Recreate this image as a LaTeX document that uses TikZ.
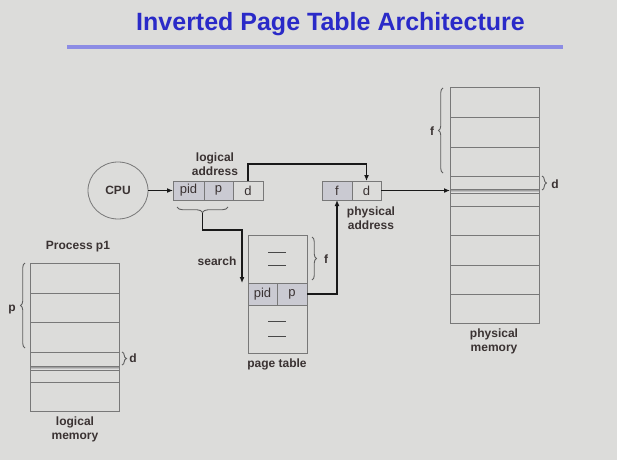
\documentclass[tikz,border=0pt]{standalone}
\usepackage{fontspec}
\setmainfont{Liberation Sans}
\usetikzlibrary{arrows.meta,decorations.pathreplacing,calc,shapes.geometric}
\definecolor{bg}{RGB}{220,220,218}
\definecolor{linegray}{RGB}{120,120,120}
\definecolor{bracegray}{RGB}{95,95,95}
\definecolor{shade}{RGB}{202,202,210}
\definecolor{lblcol}{RGB}{58,50,50}
\definecolor{arrcol}{RGB}{25,25,25}
\definecolor{titleblue}{RGB}{42,42,200}
\definecolor{ruleblue}{RGB}{140,140,228}
\tikzset{
  cell/.style={draw=linegray, line width=0.8pt, minimum height=19pt, inner sep=0pt, outer sep=0pt, text=lblcol, font=\fontsize{13}{15}\selectfont},
  shadedcell/.style={cell, fill=shade},
  lbl/.style={font=\bfseries\fontsize{12}{14}\selectfont, text=lblcol, align=center, inner sep=0pt},
  arr/.style={-{Latex[length=6pt,width=5pt]}, line width=1.3pt, draw=arrcol},
  brc/.style={decorate, decoration={brace, amplitude=4.5pt}, draw=bracegray, line width=0.9pt},
  membox/.style={draw=linegray, line width=0.8pt, inner sep=0pt, outer sep=0pt},
  memline/.style={draw=linegray, line width=0.8pt},
  dashmark/.style={draw=linegray!60!black, line width=1pt}
}
\begin{document}
\begin{tikzpicture}[x=1pt,y=-1pt]
\useasboundingbox (0,0) rectangle (617,460);
\fill[bg] (0,0) rectangle (617,460);
% title
\node[font=\bfseries\fontsize{25}{30}\selectfont, text=titleblue, inner sep=0pt] (title) at (330.5,24.5) {Inverted Page Table Architecture};
\coordinate (r1) at (67,47);
\coordinate (r2) at (563,47);
\draw[ruleblue, line width=3pt] (r1) -- (r2);

% CPU
\node[ellipse, draw=linegray, line width=0.8pt, minimum width=60pt, minimum height=57pt, inner sep=0pt, font=\bfseries\fontsize{12}{14}\selectfont, text=lblcol] (cpu) at (118,190.5) {CPU};

% logical address
\node[shadedcell, minimum width=31pt] (lpid) at (188.5,190.5) {pid};
\node[shadedcell, minimum width=29pt] (lp) at (218.5,190.5) {p};
\node[cell, minimum width=30pt] (ld) at (248,190.5) {d};
\node[lbl] (lalbl) at (215,164) {logical\\address};

% physical address
\node[shadedcell, minimum width=30pt] (pf) at (337,190.5) {f};
\node[cell, minimum width=29pt] (pd) at (366.5,190.5) {d};
\node[lbl] (palbl) at (371,218.5) {physical\\address};

% page table
\node[cell, minimum width=59pt, minimum height=48pt] (pttop) at (277.5,259) {};
\node[shadedcell, minimum width=29pt, minimum height=22pt] (ptpid) at (262.5,294) {pid};
\node[shadedcell, minimum width=30pt, minimum height=22pt] (ptp) at (292,294) {p};
\node[cell, minimum width=59pt, minimum height=48pt] (ptbot) at (277.5,329) {};
\draw[dashmark] (268,252) -- (286,252);
\draw[dashmark] (268,265) -- (286,265);
\draw[dashmark] (268,321) -- (286,321);
\draw[dashmark] (268,336) -- (286,336);
\node[lbl] (ptlbl) at (277,364) {page table};
\draw[brc] (312,237) -- (312,280);
\node[lbl] (ptf) at (326,259) {f};
\node[lbl] (search) at (217,261) {search};

% brace under pid p
\draw[brc, decoration={brace, amplitude=5.5pt}] (228,207) -- (177,207);
\coordinate (bt) at (202.5,213);

% physical memory
\node[membox, minimum width=89pt, minimum height=236pt] (pm) at (494.5,205) {};
\fill[shade] (450,189) rectangle (539,193);
\foreach \yy in {117,147,176,189,193,206,235,265,294} {
  \draw[memline] (450,\yy) -- (539,\yy);
}
\draw[membox] (450,87) rectangle (539,323);
\draw[brc] (443,173) -- (443,88);
\node[lbl] (pmf) at (432,131) {f};
\draw[brc] (542,176) -- (542,190);
\node[lbl] (pmd) at (555,184) {d};
\node[lbl] (pmlbl) at (494,341) {physical\\memory};

% logical memory
\node[membox, minimum width=89pt, minimum height=148pt] (lm) at (74.5,337) {};
\fill[shade] (30,366) rectangle (119,370);
\foreach \yy in {293,322,352,366,370,382} {
  \draw[memline] (30,\yy) -- (119,\yy);
}
\draw[membox] (30,263) rectangle (119,411);
\node[lbl] (p1) at (78,247) {Process p1};
\draw[brc] (25,348) -- (25,263);
\node[lbl] (lmp) at (12,310) {p};
\draw[brc] (122,352) -- (122,365);
\node[lbl] (lmd) at (133,358) {d};
\node[lbl] (lmlbl) at (75,429) {logical\\memory};

% arrows
\draw[arr] (cpu.east) -- (lpid.west);
\draw[arr] (ld.north) -- ++(0,-17) -| (pd.north);
\draw[arr] (bt) -- ++(0,17) -| ([xshift=-6pt]ptpid.north west);
\draw[arr] (ptp.east) -| (pf.south);
\draw[arr] (pd.east) -- (pd.east -| pm.west);
\end{tikzpicture}
\end{document}
